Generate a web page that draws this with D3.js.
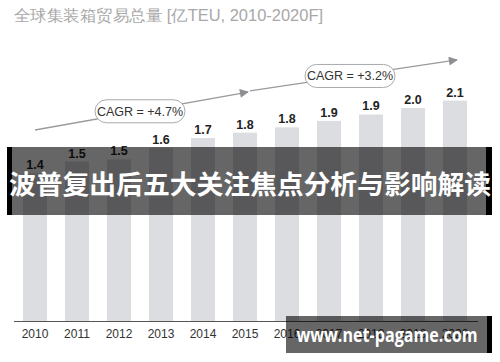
<!DOCTYPE html>
<html><head><meta charset="utf-8">
<script src="https://cdn.jsdelivr.net/npm/d3@7"></script>
<style>html,body{margin:0;padding:0;background:#fff;}svg{display:block;}</style>
</head><body>
<svg id="c" width="500" height="362"></svg>
<script>
const title = "全球集装箱贸易总量 [亿TEU, 2010-2020F]";
const years = ["2010","2011","2012","2013","2014","2015","2016","2017","2018","2019","2020"];
const values = [1.38,1.49,1.51,1.62,1.71,1.76,1.81,1.87,1.93,1.99,2.06];
const valueLabels = ["1.4","1.5","1.5","1.6","1.7","1.8","1.8","1.9","1.9","2.0","2.1"];
const cagrLabels = ["CAGR = +4.7%","CAGR = +3.2%"];
const cagrFrom = ["2010","2015"];
const cagrTo = ["2015","2020"];
const cagrStartVal = [1.785,2.15];
const cagrEndVal = [2.14,2.44];
const bannerText = "波普复出后五大关注焦点分析与影响解读";
const watermarkText = "www.net-pagame.com";

const svg = d3.select("#c");
const font = "'Liberation Sans', Arial, sans-serif";

const x = d3.scaleBand().domain(years).range([14, 476]).paddingInner(18/42).paddingOuter(9/42);
const y = d3.scaleLinear().domain([0, 2.2]).range([321, 321 - 2.2*107]);

// title
svg.append("text").attr("x", 14).attr("y", 21).attr("font-family", font)
  .attr("font-size", 16).attr("fill", "#a8a8a8").attr("textLength", 309).attr("lengthAdjust", "spacingAndGlyphs")
  .text(title);

// bars
svg.append("g").selectAll("rect").data(values).join("rect")
  .attr("x", (d,i) => x(years[i])).attr("width", x.bandwidth())
  .attr("y", d => y(d)).attr("height", d => y(0) - y(d))
  .attr("fill", "#dcdde0");

// value labels
svg.append("g").selectAll("text").data(values).join("text")
  .attr("x", (d,i) => x(years[i]) + x.bandwidth()/2)
  .attr("y", d => y(d) - 4)
  .attr("text-anchor", "middle").attr("font-family", font)
  .attr("font-size", 12.5).attr("font-weight", "bold").attr("fill", "#222")
  .text((d,i) => valueLabels[i]);

// axis
const axis = d3.axisBottom(x).tickSize(0).tickPadding(8);
const ag = svg.append("g").attr("transform", `translate(0,${y(0)})`).call(axis);
ag.select(".domain").remove();
ag.selectAll("text").attr("font-family", font).attr("font-size", 12).attr("fill", "#333");
svg.append("line").attr("x1", 14).attr("x2", 478).attr("y1", y(0)+0.5).attr("y2", y(0)+0.5)
  .attr("stroke", "#555").attr("stroke-width", 1);

// CAGR arrows
const defs = svg.append("defs");
defs.append("marker").attr("id", "ah").attr("viewBox", "0 0 10 10").attr("refX", 9).attr("refY", 5)
  .attr("markerWidth", 12).attr("markerHeight", 9).attr("markerUnits", "userSpaceOnUse")
  .attr("orient", "auto")
  .append("path").attr("d", "M0,0 L10,5 L0,10 Z").attr("fill", "#8d8e91");

cagrLabels.forEach((lab, i) => {
  const x1 = x(cagrFrom[i]) + x.bandwidth()/2 + (i === 0 ? 0 : 5);
  const x2 = x(cagrTo[i]) + x.bandwidth()/2 + (i === 0 ? 3 : 2);
  const y1 = y(cagrStartVal[i]), y2 = y(cagrEndVal[i]);
  svg.append("line").attr("x1", x1).attr("y1", y1).attr("x2", x2).attr("y2", y2)
    .attr("stroke", "#999a9d").attr("stroke-width", 1.3).attr("marker-end", "url(#ah)");
  const cx = i === 0 ? 140 : 350;
  const t = (cx - x1) / (x2 - x1);
  const cy = y1 + t * (y2 - y1);
  svg.append("rect").attr("x", cx - 45).attr("y", cy - 11.5).attr("width", 90).attr("height", 23)
    .attr("rx", 11.5).attr("fill", "#fff").attr("stroke", "#a9aaad").attr("stroke-width", 1);
  svg.append("text").attr("x", cx).attr("y", cy + 4.5).attr("text-anchor", "middle")
    .attr("font-family", font).attr("font-size", 12.5).attr("fill", "#333").text(lab);
});

// banner overlay
svg.append("rect").attr("x", 7).attr("y", 147).attr("width", 485).attr("height", 68)
  .attr("fill", "rgba(0,0,0,0.6)");
svg.append("rect").attr("x", 7).attr("y", 147).attr("width", 5).attr("height", 68).attr("fill", "#000");
svg.append("rect").attr("x", 486).attr("y", 147).attr("width", 6).attr("height", 68).attr("fill", "#000");
svg.append("text").attr("x", 250).attr("y", 194).attr("text-anchor", "middle")
  .attr("font-family", "'Noto Sans CJK SC', sans-serif").attr("font-weight", "bold")
  .attr("font-size", 26.5).attr("fill", "#fff").attr("textLength", 482).attr("lengthAdjust", "spacingAndGlyphs")
  .text(bannerText);

// watermark
svg.append("rect").attr("x", 286).attr("y", 316).attr("width", 201).attr("height", 37)
  .attr("fill", "rgba(0,0,0,0.6)");
svg.append("rect").attr("x", 487).attr("y", 316).attr("width", 5).attr("height", 37).attr("fill", "#000");
svg.append("text").attr("x", 387).attr("y", 342).attr("text-anchor", "middle")
  .attr("font-family", "'Open Sans', 'DejaVu Sans', sans-serif").attr("font-weight", "bold")
  .attr("font-size", 19).attr("fill", "#fff").attr("textLength", 181).attr("lengthAdjust", "spacingAndGlyphs")
  .text(watermarkText);
</script>
</body></html>
